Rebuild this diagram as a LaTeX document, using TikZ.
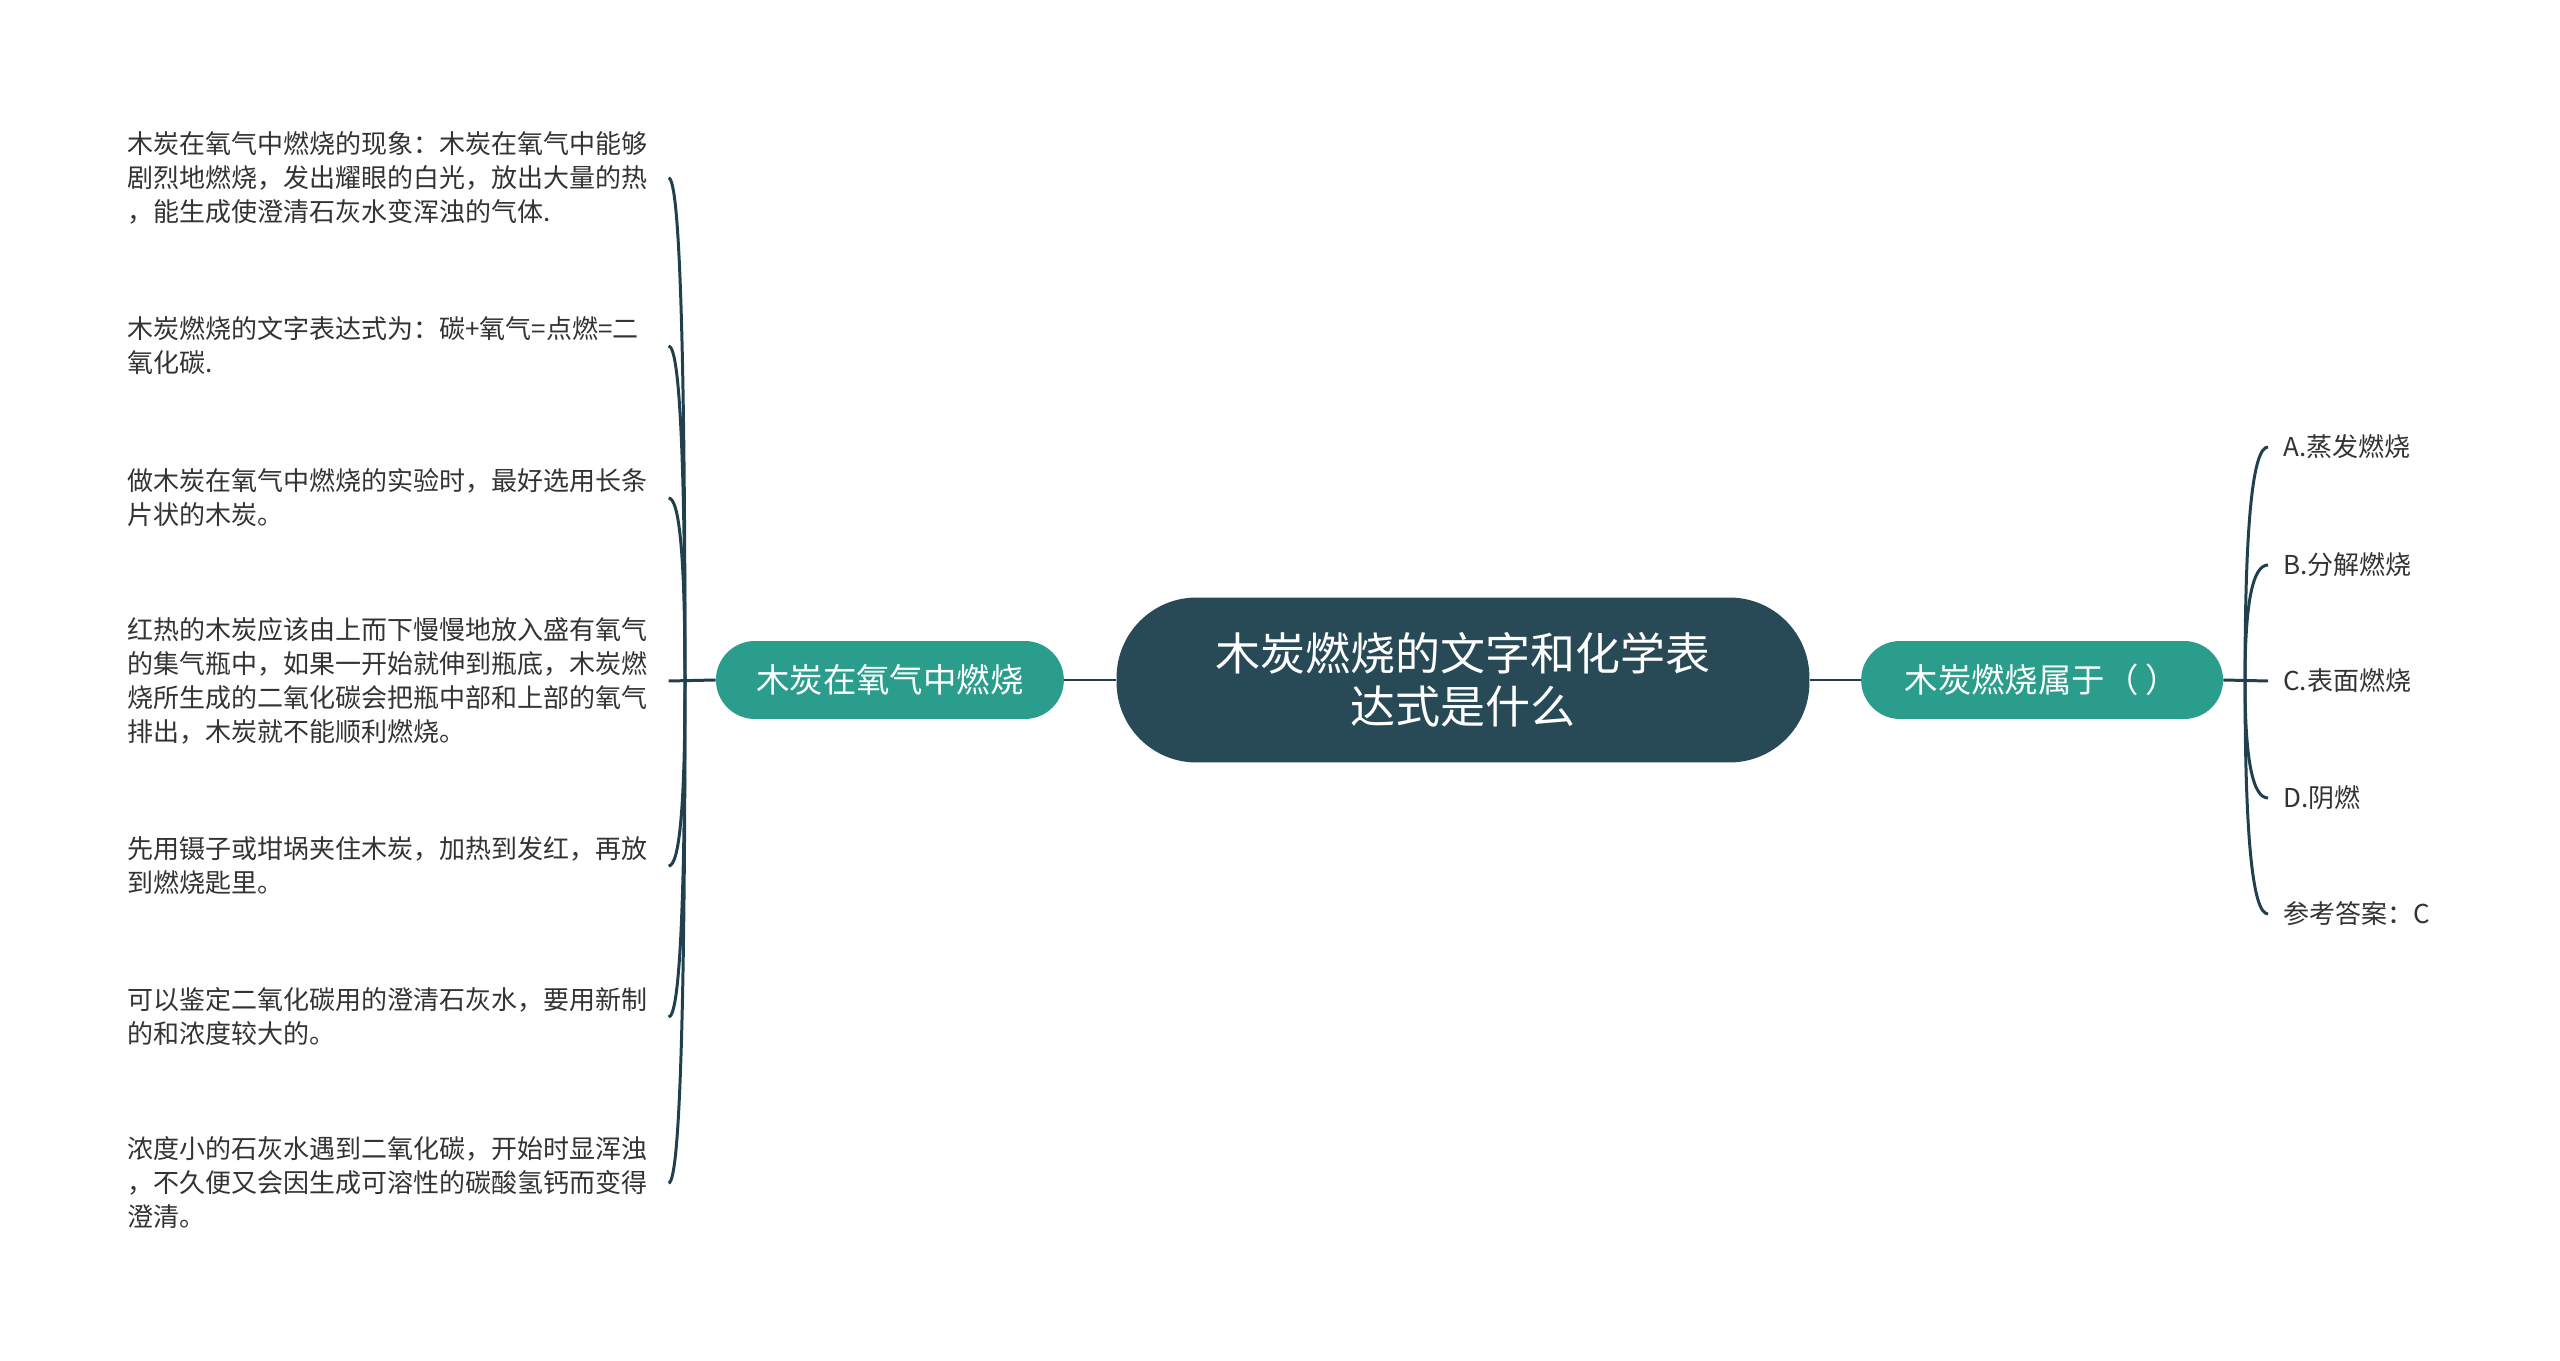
\documentclass[tikz,border=0pt]{standalone}
\usepackage{fontspec}
\newfontfamily\cjk{Noto Sans CJK SC}
\usepackage{tikz}
\usetikzlibrary{positioning, calc}
\definecolor{rootslate}{HTML}{284A57}
\definecolor{branchteal}{HTML}{2A9D8C}
\definecolor{linkslate}{HTML}{21404D}
\definecolor{leafgray}{HTML}{333333}

\begin{document}
\begin{tikzpicture}[
  x=0.02cm, y=-0.02cm,
  root/.style={rectangle, fill=rootslate, text=white,
               font=\cjk\fontsize{25.6pt}{30.2pt}\selectfont, rounded corners=1.6cm,
               minimum width=13.86cm, minimum height=3.3cm, align=center},
  branch/.style={rectangle, fill=branchteal, text=white,
                 font=\cjk\fontsize{19pt}{23pt}\selectfont, rounded corners=0.78cm,
                 minimum height=1.56cm, align=center},
  leaf/.style={font=\cjk\fontsize{14.8pt}{19.35pt}\selectfont, text=leafgray,
               text width=10.52cm, align=left, inner xsep=0.3cm, inner ysep=0pt,
               anchor=west},
  choice/.style={font=\cjk\fontsize{14.8pt}{19.35pt}\selectfont, text=leafgray,
                 inner xsep=0.3cm, inner ysep=0pt, anchor=west},
  link/.style={draw=linkslate, line width=1.7pt},
]
\useasboundingbox (0,0) rectangle (2560,1361);

%% ROOT
\node[root] (root) at (1463,680) {木炭燃烧的文字和化学表\\达式是什么};

%% --- BRANCHES ---
\node[branch, minimum width=6.96cm, left=1.04cm of root]  (burn) {木炭在氧气中燃烧};
\node[branch, minimum width=7.24cm, right=1.02cm of root] (kind) {木炭燃烧属于（ ）};

%% --- LEFT LEAVES ---
\node[leaf] (f1) at (112,178) {木炭在氧气中燃烧的现象：木炭在氧气中能够\\剧烈地燃烧，发出耀眼的白光，放出大量的热\\，能生成使澄清石灰水变浑浊的气体.};
\node[leaf] (f2) at (112,346) {木炭燃烧的文字表达式为：碳+氧气=点燃=二\\氧化碳.};
\node[leaf] (f3) at (112,498) {做木炭在氧气中燃烧的实验时，最好选用长条\\片状的木炭。};
\node[leaf] (f4) at (112,681) {红热的木炭应该由上而下慢慢地放入盛有氧气\\的集气瓶中，如果一开始就伸到瓶底，木炭燃\\烧所生成的二氧化碳会把瓶中部和上部的氧气\\排出，木炭就不能顺利燃烧。};
\node[leaf] (f5) at (112,866) {先用镊子或坩埚夹住木炭，加热到发红，再放\\到燃烧匙里。};
\node[leaf] (f6) at (112,1017) {可以鉴定二氧化碳用的澄清石灰水，要用新制\\的和浓度较大的。};
\node[leaf] (f7) at (112,1183) {浓度小的石灰水遇到二氧化碳，开始时显浑浊\\，不久便又会因生成可溶性的碳酸氢钙而变得\\澄清。};

%% --- RIGHT LEAVES ---
\node[choice] (ca) at (2268,447) {A.蒸发燃烧};
\node[choice] (cb) at (2268,565) {B.分解燃烧};
\node[choice] (cc) at (2268,681) {C.表面燃烧};
\node[choice] (cd) at (2268,798) {D.阴燃};
\node[choice] (ans) at (2268,914) {参考答案：C};

%% junctions
\coordinate (lj) at (685,681);
\coordinate (rj) at (2245,681);

%% Root to branches
\draw[link] (root.west) -- (burn.east);
\draw[link] (root.east) -- (kind.west);

%% Left branch children
\draw[link] (burn.west) -- (f4.east);
\draw[link] (lj) .. controls ($(lj)!0.67!(lj |- f1.east)$) and ($(f1.east)!0.67!(lj |- f1.east)$) .. (f1.east);
\draw[link] (lj) .. controls ($(lj)!0.67!(lj |- f2.east)$) and ($(f2.east)!0.67!(lj |- f2.east)$) .. (f2.east);
\draw[link] (lj) .. controls ($(lj)!0.67!(lj |- f3.east)$) and ($(f3.east)!0.67!(lj |- f3.east)$) .. (f3.east);
\draw[link] (lj) .. controls ($(lj)!0.67!(lj |- f5.east)$) and ($(f5.east)!0.67!(lj |- f5.east)$) .. (f5.east);
\draw[link] (lj) .. controls ($(lj)!0.67!(lj |- f6.east)$) and ($(f6.east)!0.67!(lj |- f6.east)$) .. (f6.east);
\draw[link] (lj) .. controls ($(lj)!0.67!(lj |- f7.east)$) and ($(f7.east)!0.67!(lj |- f7.east)$) .. (f7.east);

%% Right branch children
\draw[link] (kind.east) -- (cc.west);
\draw[link] (rj) .. controls ($(rj)!0.67!(rj |- ca.west)$) and ($(ca.west)!0.67!(rj |- ca.west)$) .. (ca.west);
\draw[link] (rj) .. controls ($(rj)!0.67!(rj |- cb.west)$) and ($(cb.west)!0.67!(rj |- cb.west)$) .. (cb.west);
\draw[link] (rj) .. controls ($(rj)!0.67!(rj |- cd.west)$) and ($(cd.west)!0.67!(rj |- cd.west)$) .. (cd.west);
\draw[link] (rj) .. controls ($(rj)!0.67!(rj |- ans.west)$) and ($(ans.west)!0.67!(rj |- ans.west)$) .. (ans.west);

\end{tikzpicture}
\end{document}
